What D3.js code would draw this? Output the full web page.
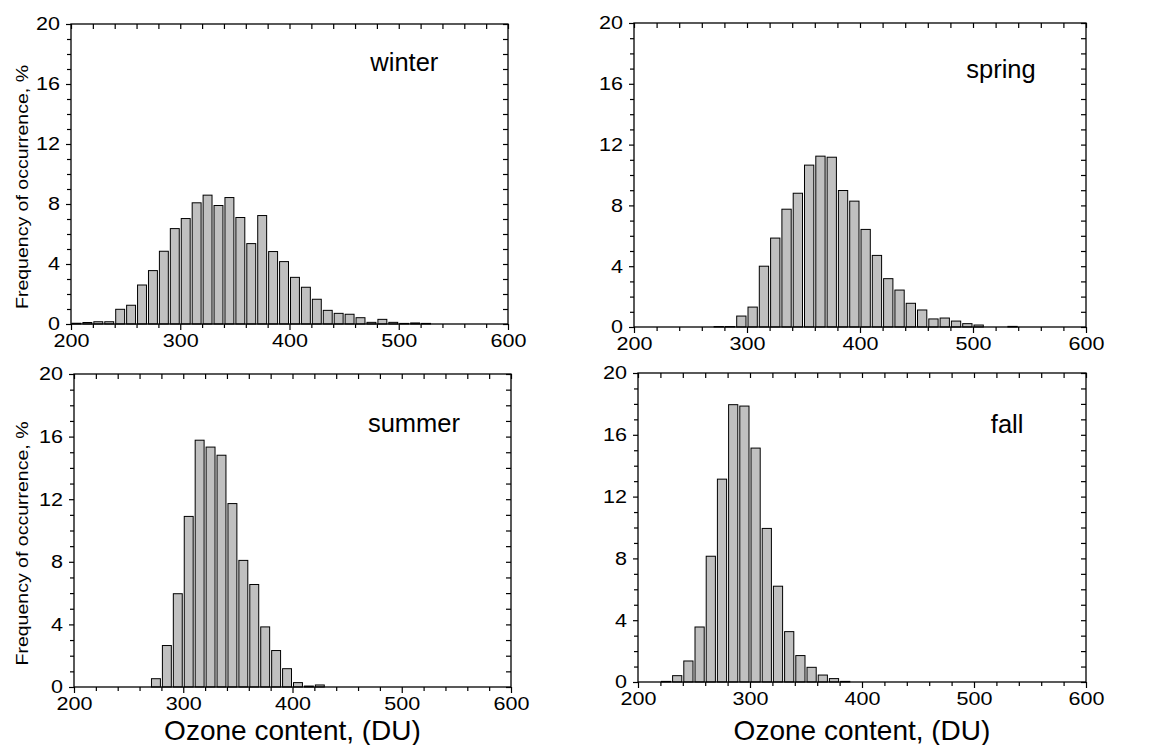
<!DOCTYPE html>
<html>
<head>
<meta charset="utf-8">
<script src="https://cdn.jsdelivr.net/npm/d3@7"></script>
<style>
  body { margin: 0; background: #fff; }
  svg text { font-family: "Liberation Sans", Arial, sans-serif; fill: #000; }
</style>
</head>
<body>
<svg id="chart" width="1157" height="745"></svg>
<script>
// lower edge of each 10 DU bin
var binStart = [200, 210, 220, 230, 240, 250, 260, 270, 280, 290,
                300, 310, 320, 330, 340, 350, 360, 370, 380, 390,
                400, 410, 420, 430, 440, 450, 460, 470, 480, 490,
                500, 510, 520, 530, 540, 550, 560, 570, 580, 590];

// frequency of occurrence, %
var winter = [0.05, 0.1, 0.15, 0.15, 0.98, 1.25, 2.6, 3.56, 4.85, 6.36,
              7.03, 8.08, 8.59, 7.9, 8.43, 7.1, 5.36, 7.23, 4.83, 4.16,
              3.11, 2.45, 1.65, 0.91, 0.71, 0.65, 0.42, 0.11, 0.31, 0.11,
              0.04, 0.07, 0.04, 0, 0, 0, 0, 0, 0, 0];
var spring = [0, 0, 0, 0, 0, 0, 0, 0.03, 0.03, 0.72,
              1.31, 4.0, 5.85, 7.75, 8.8, 10.65, 11.24, 11.17, 8.98, 8.28,
              6.42, 4.71, 3.18, 2.43, 1.56, 1.12, 0.53, 0.59, 0.39, 0.22,
              0.13, 0, 0, 0.04, 0, 0, 0, 0, 0, 0];
var summer = [0, 0, 0, 0, 0, 0, 0, 0.53, 2.65, 5.96,
              10.9, 15.77, 15.33, 14.81, 11.72, 8.09, 6.55, 3.84, 2.33, 1.17,
              0.28, 0.06, 0.13, 0, 0, 0, 0, 0, 0, 0,
              0, 0, 0, 0, 0, 0, 0, 0, 0, 0];
var fall = [0, 0, 0.04, 0.41, 1.36, 3.56, 8.14, 13.13, 17.95, 17.86,
            15.14, 9.94, 6.2, 3.26, 1.71, 0.95, 0.45, 0.22, 0.04, 0,
            0, 0, 0, 0, 0, 0, 0, 0, 0, 0,
            0, 0, 0, 0, 0, 0, 0, 0, 0, 0];

var seasonNames = ["winter", "spring", "summer", "fall"];
// where the season name sits, in data units (ozone, %)
var seasonLabelAt = [[474, 16.9], [494, 16.4], [469, 16.3], [515, 16.1]];

var xMajor = [200, 300, 400, 500, 600];
var xMinor = [220, 240, 260, 280, 320, 340, 360, 380, 420, 440, 460, 480, 520, 540, 560, 580];
var yMajor = [0, 4, 8, 12, 16, 20];
var yMinor = [1, 2, 3, 5, 6, 7, 9, 10, 11, 13, 14, 15, 17, 18, 19];

var binWidth = 10;
var yTitle = "Frequency of occurrence, %";
var xTitle = "Ozone content, (DU)";

// panel boxes in page pixels
var panels = [
    {left: 71,  right: 508,  top: 24,  bottom: 324, data: winter, yt: true,  xt: false},
    {left: 634, right: 1086, top: 23,  bottom: 327, data: spring, yt: false, xt: false},
    {left: 74,  right: 511,  top: 374, bottom: 687, data: summer, yt: true,  xt: true},
    {left: 638, right: 1086, top: 373, bottom: 682, data: fall,   yt: false, xt: true}
];

var svg = d3.select("#chart");

panels.forEach(function(p, i) {
    var w = p.right - p.left,
        h = p.bottom - p.top;

    var g = svg.append("g")
        .attr("transform", "translate(" + p.left + "," + p.top + ")");

    var x = d3.scaleLinear().domain([200, 600]).range([0, w]);
    var y = d3.scaleLinear().domain([0, 20]).range([h, 0]);

    var bins = binStart.map(function(b, k) { return {lo: b, v: p.data[k]}; })
                       .filter(function(d) { return d.v > 0; });

    // bars
    g.append("g")
        .selectAll("rect")
        .data(bins)
        .enter()
        .append("rect")
        .attr("x", function(d) { return x(d.lo) + 1; })
        .attr("width", function(d) { return x(d.lo + binWidth) - x(d.lo) - 2; })
        .attr("y", function(d) { return y(d.v); })
        .attr("height", function(d) { return y(0) - y(d.v); })
        .attr("fill", "#c0c0c0")
        .attr("stroke", "#000")
        .attr("stroke-width", 1);

    // axes: ticks outwards on left/bottom, inward on top/right
    function styleAxis(sel) {
        sel.select(".domain").remove();
        sel.selectAll("line").attr("stroke", "#000").attr("stroke-width", 1.2);
        // the original labels are drawn a bit wide
        sel.selectAll("text")
            .style("font-size", "18.5px")
            .attr("textLength", function() { return this.textContent.length * 12; })
            .attr("lengthAdjust", "spacingAndGlyphs");
    }

    g.append("g").attr("transform", "translate(0," + h + ")")
        .call(d3.axisBottom(x).tickValues(xMajor).tickSize(6).tickPadding(4))
        .call(styleAxis);
    g.append("g").attr("transform", "translate(0," + h + ")")
        .call(d3.axisBottom(x).tickValues(xMinor).tickSize(4).tickFormat(""))
        .call(styleAxis);
    g.append("g")
        .call(d3.axisTop(x).tickValues(xMajor.concat(xMinor)).tickSize(-5).tickFormat(""))
        .call(styleAxis);

    g.append("g")
        .call(d3.axisLeft(y).tickValues(yMajor).tickSize(5).tickPadding(6))
        .call(styleAxis);
    g.append("g")
        .call(d3.axisLeft(y).tickValues(yMinor).tickSize(4).tickFormat(""))
        .call(styleAxis);
    g.append("g").attr("transform", "translate(" + w + ",0)")
        .call(d3.axisRight(y).tickValues(yMajor.concat(yMinor)).tickSize(-5).tickFormat(""))
        .call(styleAxis);

    // frame
    g.append("rect")
        .attr("width", w)
        .attr("height", h)
        .attr("fill", "none")
        .attr("stroke", "#000")
        .attr("stroke-width", 1.3);

    // season name
    g.append("text")
        .attr("x", x(seasonLabelAt[i][0]))
        .attr("y", y(seasonLabelAt[i][1]))
        .style("font-size", "25.5px")
        .text(seasonNames[i]);

    if (p.yt) {
        g.append("text")
            .attr("transform", "translate(" + (28 - p.left) + "," + (h / 2 + 13) + ") rotate(-90)")
            .attr("text-anchor", "middle")
            .attr("textLength", 244)
            .attr("lengthAdjust", "spacingAndGlyphs")
            .style("font-size", "17px")
            .text(yTitle);
    }
    if (p.xt) {
        g.append("text")
            .attr("x", w / 2)
            .attr("y", 740 - p.top)
            .attr("text-anchor", "middle")
            .style("font-size", "28px")
            .text(xTitle);
    }
});
</script>
</body>
</html>
